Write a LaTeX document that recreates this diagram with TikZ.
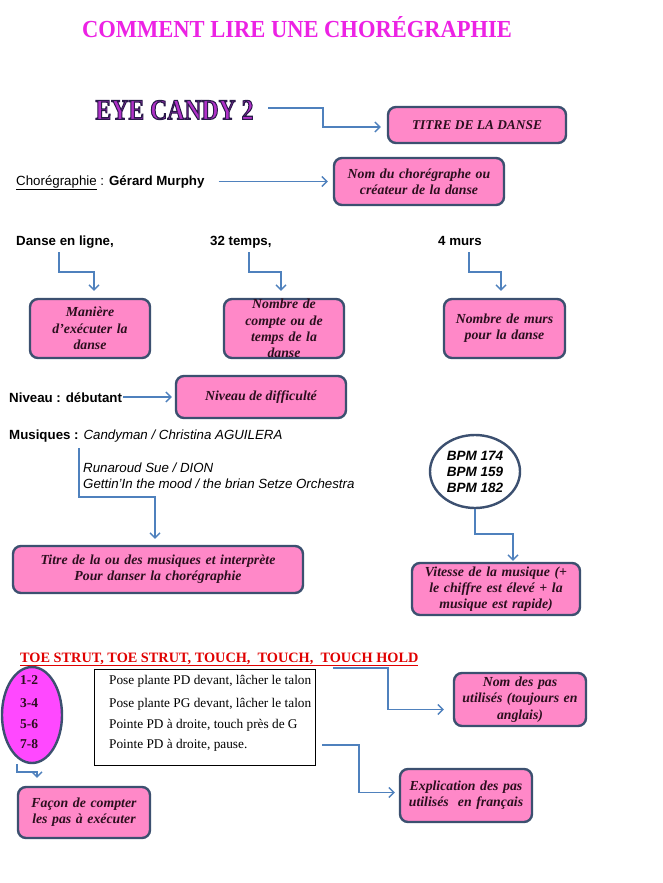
\documentclass[tikz,border=0pt]{standalone}
\usepackage{fontspec}
\setmainfont{Liberation Serif}
\setsansfont{Liberation Sans}
\newfontfamily\eyefont[FakeBold=4,BoldFeatures={FakeBold=4}]{Liberation Serif}
\usetikzlibrary{arrows.meta,shapes.geometric}
\definecolor{pinkfill}{HTML}{FF88C8}
\definecolor{boxborder}{HTML}{3C5070}
\definecolor{arrowblue}{HTML}{4F81BD}
\definecolor{boxtext}{HTML}{2B0F1E}
\definecolor{titlemag}{HTML}{EC22E4}
\definecolor{eyepurple}{HTML}{B030C8}
\definecolor{countmag}{HTML}{FF48FF}
\definecolor{stepred}{HTML}{E00000}
\begin{document}
\begin{tikzpicture}[x=1pt,y=-1pt,
  pinkbox/.style={draw=boxborder,fill=pinkfill,line width=2.4pt,rounded corners=8pt,
     inner sep=0pt,align=center,text=boxtext,
     font=\fontsize{13.8}{16.3}\selectfont\bfseries\itshape},
  arr/.style={draw=arrowblue,line width=1.4pt,-{Straight Barb[length=5pt,width=10pt]}},
  sanslab/.style={anchor=base west,inner sep=0pt,font=\fontsize{13.3}{15}\selectfont\sffamily},
  sansbold/.style={sanslab,font=\fontsize{13.3}{15}\selectfont\sffamily\bfseries},
  sansit/.style={sanslab,font=\fontsize{13.3}{15}\selectfont\sffamily\itshape},
  steplab/.style={anchor=base west,inner sep=0pt,font=\fontsize{13.3}{15}\selectfont},
  countlab/.style={anchor=base west,inner sep=0pt,text=boxtext,font=\fontsize{13.5}{15}\selectfont\bfseries}
]
\useasboundingbox (0,0) rectangle (662,883);
\fill[white] (0,0) rectangle (662,883);

% Title
\node[inner sep=0pt,text=titlemag] (title) at (297,27)
  {\resizebox{430pt}{21pt}{\bfseries COMMENT LIRE UNE CHORÉGRAPHIE}};

% Eye candy: purple letters with dark stroke
\node[inner sep=0pt,text=eyepurple] (eye) at (174.5,110)
  {\special{pdf:literal direct 0.165 0.102 0.29 RG}\resizebox{158pt}{19pt}{\eyefont\bfseries EYE CANDY 2}};

% Boxes
\node[pinkbox,minimum width=178pt,minimum height=36pt] (titre) at (477,125)
  {\fontsize{13.4}{15}\selectfont TITRE DE LA DANSE};
\node[pinkbox,minimum width=170pt,minimum height=47pt,text width=165pt] (nom) at (419,181.5)
  {Nom du chorégraphe ou\\créateur de la danse};
\node[pinkbox,minimum width=120pt,minimum height=59pt,text width=114pt] (maniere) at (90,328.5)
  {Manière\\d’exécuter la\\danse};
\node[pinkbox,minimum width=120pt,minimum height=59pt,text width=114pt] (nombre) at (284,328.5)
  {Nombre de\\compte ou de\\temps de la\\danse};
\node[pinkbox,minimum width=121pt,minimum height=59pt,text width=117pt] (murs) at (504.5,328.5)
  {Nombre de murs\\pour la danse};
\node[pinkbox,minimum width=170pt,minimum height=42pt] (niveau) at (261,397)
  {Niveau de difficulté};
\node[pinkbox,minimum width=290pt,minimum height=47pt,text width=284pt] (titremus) at (158,569.5)
  {Titre de la ou des musiques et interprète\\Pour danser la chorégraphie};
\node[pinkbox,minimum width=168pt,minimum height=52pt,text width=166pt] (vitesse) at (496,589)
  {Vitesse de la musique (+\\le chiffre est élevé + la\\musique est rapide)};
\node[pinkbox,minimum width=132pt,minimum height=53pt,text width=130pt] (nompas) at (520,699.5)
  {Nom des pas\\utilisés (toujours en\\anglais)};
\node[pinkbox,minimum width=132pt,minimum height=53pt,text width=130pt] (explic) at (466,795.5)
  {Explication des pas\\utilisés\ \ en français};
\node[pinkbox,minimum width=132pt,minimum height=51pt,text width=130pt] (facon) at (84,812.5)
  {Façon de compter\\les pas à exécuter};

% BPM ellipse
\node[ellipse,draw=boxborder,fill=white,line width=2.4pt,minimum width=90pt,minimum height=73pt,
  inner sep=0pt,align=left,font=\fontsize{13.5}{16}\selectfont\sffamily\bfseries\itshape] (bpm) at (475,471.5)
  {BPM 174\\BPM 159\\BPM 182};

% Text labels
\node[sanslab] (chor) at (16,185) {\underline{Chorégraphie} : \textbf{Gérard Murphy}};
\node[sansbold] (danse) at (16,245) {Danse en ligne,};
\node[sansbold] (temps) at (210,245) {32 temps,};
\node[sansbold] (quatre) at (438,245) {4 murs};
\node[sansbold] (niv) at (9,402) {Niveau : débutant};
\node[sanslab] (mus) at (9,439) {\textbf{Musiques :} \textit{Candyman / Christina AGUILERA}};
\node[sansit] (run) at (83,472) {Runaroud Sue\ / DION};
\node[sansit] (get) at (83,488) {Gettin’In the mood / the brian Setze Orchestra};

% Steps
\node[anchor=base west,inner sep=0pt,text=stepred,font=\fontsize{14.3}{16}\selectfont\bfseries] (toe) at (20,662)
  {\underline{TOE STRUT, TOE STRUT, TOUCH,\ \ TOUCH,\ \ TOUCH HOLD}};
\node[ellipse,draw=boxborder,fill=countmag,line width=2.4pt,minimum width=60pt,minimum height=96pt,inner sep=0pt] (count) at (32,715) {};
\node[countlab] (c1) at (20,684) {1-2};
\node[countlab] (c2) at (20,707) {3-4};
\node[countlab] (c3) at (20,728) {5-6};
\node[countlab] (c4) at (20,748) {7-8};
\node[draw=black,line width=0.8pt,minimum width=221pt,minimum height=96pt,inner sep=0pt] (rect) at (204.5,717) {};
\node[steplab] (s1) at (109,684) {Pose plante PD devant, lâcher le talon};
\node[steplab] (s2) at (109,707) {Pose plante PG devant, lâcher le talon};
\node[steplab] (s3) at (109,728) {Pointe PD à droite, touch près de G};
\node[steplab] (s4) at (109,748) {Pointe PD à droite, pause.};

% Coordinates for free ends
\coordinate (a0) at (268,108);
\coordinate (a1) at (59,252);
\coordinate (a2) at (249,252);
\coordinate (a3) at (469,252);
\coordinate (a4) at (79,448);
\coordinate (a5) at (333,668);
\coordinate (a6) at (322,745);

% Connectors
\draw[arr] (a0) -- (323,108) |- ([xshift=-6pt,yshift=-2pt]titre.west);
\draw[arr] ([xshift=14pt]chor.east |- nom.west) -- ([xshift=-5pt]nom.west);
\draw[arr] (a1) |- (94,272) -- ([xshift=4pt,yshift=7pt]maniere.north);
\draw[arr] (a2) |- (281,272) -- ([xshift=-3pt,yshift=7pt]nombre.north);
\draw[arr] (a3) |- (501,272) -- ([xshift=-3.5pt,yshift=7pt]murs.north);
\draw[arr] ([xshift=1pt]niv.east |- niveau.west) -- ([xshift=-3pt]niveau.west);
\draw[arr] (a4) |- (155,497) -- ([xshift=-3pt,yshift=6pt]titremus.north);
\draw[arr] (bpm.south) |- (513,534) -- ([xshift=17pt,yshift=1pt]vitesse.north);
\draw[arr] (a5) -- (388,668) |- ([xshift=-9pt,yshift=-10pt]nompas.west);
\draw[arr] (a6) -- (359,745) |- ([xshift=-4pt,yshift=3pt]explic.west);
\draw[arr] ([xshift=-15pt]count.south) |- (37,772) -- ([xshift=-47pt,yshift=8pt]facon.north);
\end{tikzpicture}
\end{document}
